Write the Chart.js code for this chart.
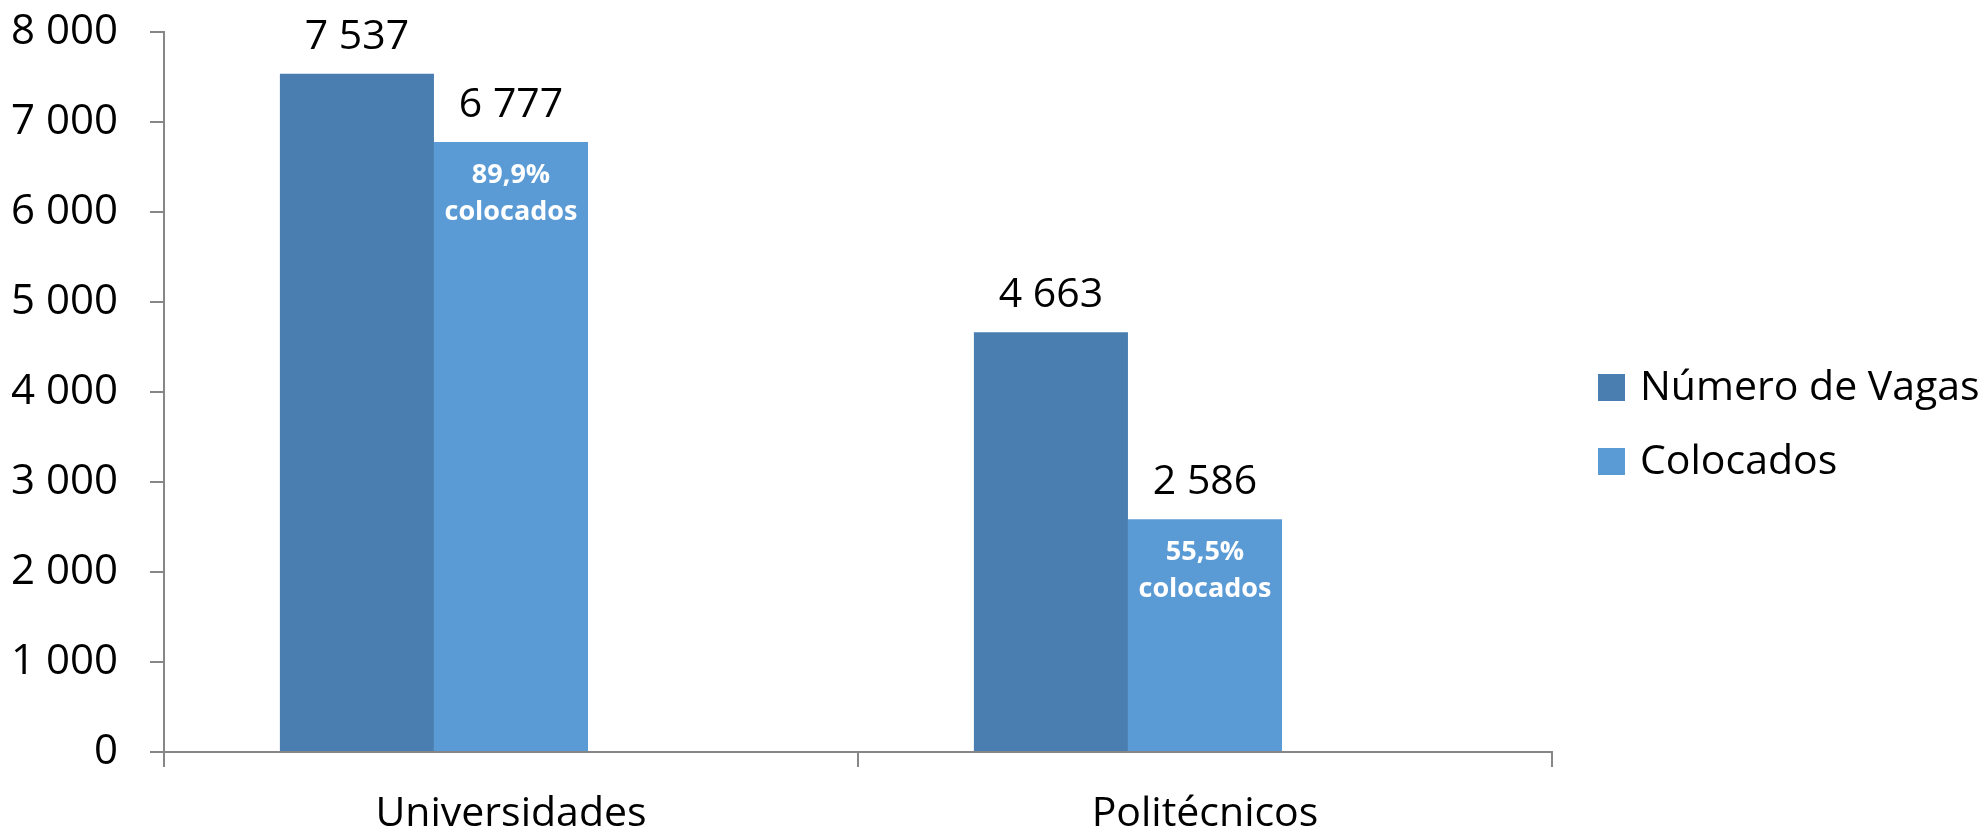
<!DOCTYPE html>
<html>
<head>
<meta charset="utf-8">
<script src="https://cdn.jsdelivr.net/npm/chart.js@4.4.0/dist/chart.umd.min.js"></script>
<style>
  body { margin: 0; background: #fff; }
  canvas { display: block; }
</style>
</head>
<body>
<canvas id="myChart" width="1987" height="830"></canvas>
<script>
// data
var categories = ['Universidades', 'Politécnicos'];
var seriesNames = ['Número de Vagas', 'Colocados'];
var vagas = [7537, 4663];
var colocados = [6777, 2586];
var pctColocados = ['89,9%', '55,5%'];
var yTicks = [0, 1000, 2000, 3000, 4000, 5000, 6000, 7000, 8000];

var darkBlue = '#4a7eb0';
var lightBlue = '#5b9bd5';
var axisGrey = '#868686';
var fontFamily = "'Open Sans', 'Noto Sans', sans-serif";

function spaced(v) {
    return String(v).replace(/\B(?=(\d{3})+(?!\d))/g, ' ');
}

// value labels above bars + percentage inside the "Colocados" bars
var barLabels = {
    id: 'barLabels',
    afterDatasetsDraw: function(chart) {
        var ctx = chart.ctx;
        ctx.save();
        ctx.textAlign = 'center';
        ctx.textBaseline = 'alphabetic';
        for (var d = 0; d < 2; d++) {
            var meta = chart.getDatasetMeta(d);
            meta.data.forEach(function(bar, i) {
                var v = chart.data.datasets[d].data[i];
                ctx.fillStyle = '#000';
                ctx.font = '41px ' + fontFamily;
                ctx.fillText(spaced(v), bar.x, bar.y - 25);
                if (d === 1) {
                    ctx.fillStyle = '#fff';
                    ctx.font = 'bold 27px ' + fontFamily;
                    ctx.fillText(pctColocados[i], bar.x, bar.y + 41);
                    ctx.fillText('colocados', bar.x, bar.y + 78);
                }
            });
        }
        ctx.restore();
    }
};

// legend on the right, drawn by hand
var sideLegend = {
    id: 'sideLegend',
    afterDraw: function(chart) {
        var ctx = chart.ctx;
        var x = chart.chartArea.right + 46;
        var rows = [387, 461];
        ctx.save();
        ctx.font = '41px ' + fontFamily;
        ctx.textBaseline = 'middle';
        ctx.textAlign = 'left';
        for (var i = 0; i < seriesNames.length; i++) {
            ctx.fillStyle = chart.data.datasets[i].backgroundColor;
            ctx.fillRect(x, rows[i] - 13, 27, 27);
            ctx.fillStyle = '#000';
            ctx.fillText(seriesNames[i], x + 42, rows[i] + 1);
        }
        ctx.restore();
    }
};

var ctx = document.getElementById('myChart').getContext('2d');
var myChart = new Chart(ctx, {
    type: 'bar',
    data: {
        labels: categories,
        datasets: [{
            label: seriesNames[0],
            data: vagas,
            backgroundColor: darkBlue,
            borderWidth: 0
        }, {
            label: seriesNames[1],
            data: colocados,
            backgroundColor: lightBlue,
            borderWidth: 0
        }, {
            // empty slot so the pair of bars sits left of the category centre
            label: '',
            data: [null, null],
            backgroundColor: 'rgba(0,0,0,0)'
        }]
    },
    options: {
        responsive: false,
        animation: false,
        devicePixelRatio: 1,
        categoryPercentage: 0.666,
        barPercentage: 1,
        layout: {
            autoPadding: false,
            padding: { left: 12, right: 435, top: 32, bottom: 0 }
        },
        plugins: {
            legend: { display: false },
            tooltip: { enabled: false }
        },
        scales: {
            x: {
                afterFit: function(axis) { axis.height = 78; },
                grid: {
                    offset: true,
                    drawOnChartArea: false,
                    drawTicks: true,
                    tickLength: 15,
                    color: axisGrey,
                    lineWidth: 2
                },
                border: { color: axisGrey, width: 2 },
                ticks: {
                    color: '#000',
                    padding: 23,
                    font: { family: fontFamily, size: 41, lineHeight: 1.2 }
                }
            },
            y: {
                min: 0,
                max: 8000,
                afterFit: function(axis) {
                    axis.width = 152;
                    axis.paddingTop = 0;
                    axis.paddingBottom = 0;
                },
                afterBuildTicks: function(axis) {
                    axis.ticks = yTicks.map(function(v) { return { value: v }; });
                },
                grid: {
                    drawOnChartArea: false,
                    drawTicks: true,
                    tickLength: 14,
                    color: axisGrey,
                    lineWidth: 2
                },
                border: { color: axisGrey, width: 2 },
                ticks: {
                    color: '#000',
                    padding: 32,
                    font: { family: fontFamily, size: 42 },
                    callback: function(v) { return spaced(v); }
                }
            }
        }
    },
    plugins: [barLabels, sideLegend]
});
</script>
</body>
</html>
